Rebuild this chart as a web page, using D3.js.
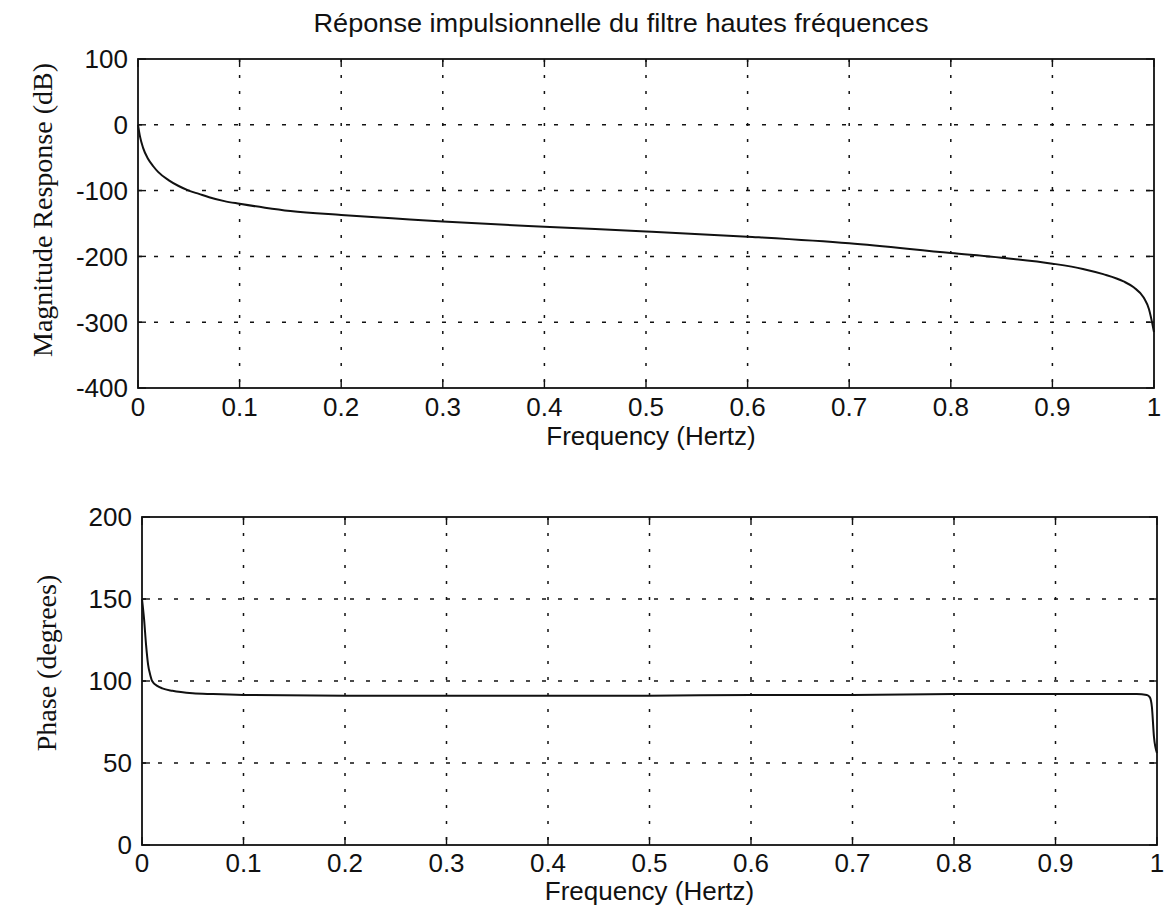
<!DOCTYPE html>
<html>
<head>
<meta charset="utf-8">
<script src="https://cdn.jsdelivr.net/npm/d3@7/dist/d3.min.js"></script>
<style>
  html, body { margin: 0; padding: 0; background: #fff; }
  svg { display: block; }
</style>
</head>
<body>
<svg id="chart" width="1176" height="911"></svg>
<script>
// ---- data ----
const titleText = "Réponse impulsionnelle du filtre hautes fréquences";
const xLabel = "Frequency (Hertz)";
const magLabel = "Magnitude Response (dB)";
const phaseLabel = "Phase (degrees)";

const xTicks = [0, 0.1, 0.2, 0.3, 0.4, 0.5, 0.6, 0.7, 0.8, 0.9, 1];
const xTickLabels = ["0", "0.1", "0.2", "0.3", "0.4", "0.5", "0.6", "0.7", "0.8", "0.9", "1"];
const magTicks = [100, 0, -100, -200, -300, -400];
const magTickLabels = ["100", "0", "-100", "-200", "-300", "-400"];
const phaseTicks = [200, 150, 100, 50, 0];
const phaseTickLabels = ["200", "150", "100", "50", "0"];

const magFreq = [0, 0.002, 0.005, 0.01, 0.015, 0.02, 0.03, 0.04, 0.05, 0.06, 0.07, 0.085, 0.1, 0.125, 0.15, 0.2, 0.25, 0.3, 0.4, 0.5, 0.6, 0.7, 0.8, 0.85, 0.9, 0.93, 0.95, 0.97, 0.98, 0.99, 0.995, 1];
const magDb   = [0, -18, -35, -52, -63, -72, -84, -93, -100, -105, -110, -116, -120, -126, -131, -137, -142, -147, -155, -162, -170, -180, -195, -202, -211, -219, -227, -238, -247, -263, -280, -315];

const phaseFreq = [0, 0.002, 0.004, 0.006, 0.008, 0.01, 0.015, 0.02, 0.03, 0.05, 0.07, 0.1, 0.2, 0.3, 0.4, 0.5, 0.6, 0.7, 0.8, 0.9, 0.95, 0.98, 0.99, 0.993, 0.995, 0.997, 1];
const phaseDeg  = [150, 138, 122, 110, 104, 100, 97, 95.5, 94, 92.5, 92, 91.5, 91, 91, 91, 91, 91.5, 91.5, 92, 92, 92, 92, 91.5, 90, 84, 66, 56];

// ---- layout ----
const svg = d3.select("#chart");
const sans = "'Liberation Sans', Arial, Helvetica, sans-serif";
const serif = "'Liberation Serif', 'Times New Roman', serif";

svg.append("rect").attr("width", 1176).attr("height", 911).attr("fill", "#fff");

svg.append("text")
  .attr("x", 621).attr("y", 32)
  .attr("text-anchor", "middle")
  .attr("font-family", sans).attr("font-size", 26)
  .attr("textLength", 615).attr("lengthAdjust", "spacingAndGlyphs")
  .attr("fill", "#111")
  .text(titleText);

function panel(cfg) {
  const x = d3.scaleLinear().domain([0, 1]).range([cfg.left, cfg.right]);
  const y = d3.scaleLinear().domain(cfg.yDomain).range([cfg.bottom, cfg.top]);
  const g = svg.append("g");

  // grid lines (dotted)
  g.append("g").selectAll("line").data(cfg.yTicks.filter(v => v !== cfg.yDomain[0] && v !== cfg.yDomain[1]))
    .join("line")
    .attr("x1", cfg.left).attr("x2", cfg.right)
    .attr("y1", d => y(d)).attr("y2", d => y(d))
    .attr("stroke", "#111").attr("stroke-width", 1.5)
    .attr("stroke-dasharray", "4,12");
  g.append("g").selectAll("line").data(xTicks.filter(v => v !== 0 && v !== 1))
    .join("line")
    .attr("x1", d => x(d)).attr("x2", d => x(d))
    .attr("y1", cfg.top).attr("y2", cfg.bottom)
    .attr("stroke", "#111").attr("stroke-width", 1.5)
    .attr("stroke-dasharray", "3,13");

  // inner ticks (MATLAB style) on all four sides
  const tl = 8;
  xTicks.forEach(v => {
    g.append("line").attr("x1", x(v)).attr("x2", x(v)).attr("y1", cfg.bottom).attr("y2", cfg.bottom - tl).attr("stroke", "#111").attr("stroke-width", 1.4);
    g.append("line").attr("x1", x(v)).attr("x2", x(v)).attr("y1", cfg.top).attr("y2", cfg.top + tl).attr("stroke", "#111").attr("stroke-width", 1.4);
  });
  cfg.yTicks.forEach(v => {
    g.append("line").attr("x1", cfg.left).attr("x2", cfg.left + tl).attr("y1", y(v)).attr("y2", y(v)).attr("stroke", "#111").attr("stroke-width", 1.4);
    g.append("line").attr("x1", cfg.right).attr("x2", cfg.right - tl).attr("y1", y(v)).attr("y2", y(v)).attr("stroke", "#111").attr("stroke-width", 1.4);
  });

  // x axis tick labels
  g.append("g").selectAll("text").data(xTicks)
    .join("text")
    .attr("x", d => x(d)).attr("y", cfg.bottom + cfg.xLabelOffset)
    .attr("text-anchor", "middle")
    .attr("font-family", sans).attr("font-size", 26).attr("fill", "#111")
    .text((d, i) => xTickLabels[i]);

  // y axis tick labels
  g.append("g").selectAll("text").data(cfg.yTicks)
    .join("text")
    .attr("x", cfg.left - 10).attr("y", d => y(d))
    .attr("dy", "0.36em")
    .attr("text-anchor", "end")
    .attr("font-family", sans).attr("font-size", 26).attr("fill", "#111")
    .text((d, i) => cfg.yTickLabels[i]);

  // axis titles
  g.append("text")
    .attr("x", (cfg.left + cfg.right) / 2 + cfg.xTitleShift).attr("y", cfg.xTitleY)
    .attr("text-anchor", "middle")
    .attr("font-family", sans).attr("font-size", 26).attr("fill", "#111")
    .text(xLabel);
  g.append("text")
    .attr("transform", `translate(${cfg.yTitleX},${cfg.yTitleY}) rotate(-90)`)
    .attr("text-anchor", "middle")
    .attr("font-family", serif).attr("font-size", 28).attr("fill", "#111")
    .text(cfg.yTitle);

  // curve
  const line = d3.line()
    .x(d => x(d[0])).y(d => y(d[1]))
    .curve(d3.curveMonotoneX);
  g.append("path")
    .datum(cfg.xs.map((f, i) => [f, cfg.ys[i]]))
    .attr("d", line)
    .attr("fill", "none").attr("stroke", "#111").attr("stroke-width", 2);

  // frame
  g.append("rect")
    .attr("x", cfg.left).attr("y", cfg.top)
    .attr("width", cfg.right - cfg.left).attr("height", cfg.bottom - cfg.top)
    .attr("fill", "none").attr("stroke", "#111").attr("stroke-width", 1.8);
}

panel({
  left: 138, right: 1154, top: 59, bottom: 388,
  yDomain: [-400, 100], yTicks: magTicks, yTickLabels: magTickLabels,
  xs: magFreq, ys: magDb,
  xLabelOffset: 28, xTitleY: 445, xTitleShift: 5,
  yTitle: magLabel, yTitleX: 52, yTitleY: 210
});

panel({
  left: 142, right: 1157, top: 517, bottom: 845,
  yDomain: [0, 200], yTicks: phaseTicks, yTickLabels: phaseTickLabels,
  xs: phaseFreq, ys: phaseDeg,
  xLabelOffset: 27, xTitleY: 900, xTitleShift: 0,
  yTitle: phaseLabel, yTitleX: 56, yTitleY: 663
});
</script>
</body>
</html>
